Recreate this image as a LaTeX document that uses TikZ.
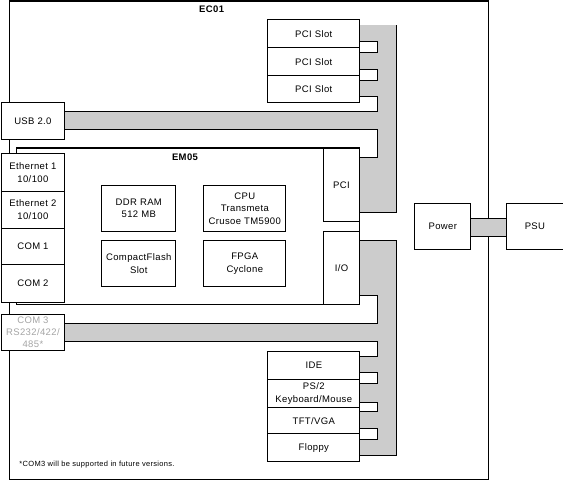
\documentclass[tikz,border=0pt]{standalone}
\usepackage{fontspec}
\setmainfont{Liberation Sans}[LetterSpace=4]
\definecolor{busgray}{RGB}{204,204,204}
\definecolor{dimtext}{RGB}{165,165,165}
\newcommand\lblfont{\fontsize{9.5}{12.5}\selectfont}
\newcommand\notefont{\fontsize{7.5}{8.5}\selectfont}
\begin{document}
\begin{tikzpicture}[x=1pt,y=-1pt,line width=1pt,
  box/.style={draw=black,fill=white,inner sep=0pt,anchor=north west,align=center,font=\lblfont},
  frame/.style={draw=black,inner sep=0pt,anchor=north west},
  title/.style={inner sep=0pt,font=\lblfont\bfseries},
  bus/.style={fill=busgray,draw=none},
  busedge/.style={draw=black,line width=1pt},
  nub/.style={draw=black,fill=white,line width=1pt}]
\useasboundingbox (0,0) rectangle (563,480);
% EC01 frame
\node[frame,minimum width=479.3pt,minimum height=478.3pt] (ec01) at (9,1) {};
\draw[line width=2pt] (ec01.north west) -- (ec01.north east);
\node[title] (ec01lbl) at (211.7,9.5) {EC01};
% upper bus
\path[bus] (359.3,25) -- (396,25) -- (396,212) -- (359.3,212) -- (359.3,157.3) -- (377.7,157.3)
  -- (377.7,129.3) -- (64.3,129.3) -- (64.3,111) -- (377.7,111) -- (377.7,96.7) -- (359.3,96.7) -- cycle;
\draw[busedge] (359.3,96.7) -- (377.7,96.7) -- (377.7,111) -- (64.3,111);
\draw[busedge] (64.3,129.3) -- (377.7,129.3) -- (377.7,157.3) -- (359.3,157.3);
\draw[busedge] (359.3,212) -- (396,212) -- (396,25);
\draw[nub] (359.3,41.3) rectangle (377.7,52.3);
\draw[nub] (359.3,69.3) rectangle (377.7,80.3);
% lower bus
\path[bus] (359.3,240) -- (396,240) -- (396,455) -- (359.3,455) -- (359.3,356) -- (377.7,356)
  -- (377.7,341.3) -- (64.3,341.3) -- (64.3,323.3) -- (377.7,323.3) -- (377.7,295) -- (359.3,295) -- cycle;
\draw[busedge] (359.3,240) -- (396,240) -- (396,455) -- (359.3,455);
\draw[busedge] (359.3,295) -- (377.7,295) -- (377.7,323.3) -- (64.3,323.3);
\draw[busedge] (64.3,341.3) -- (377.7,341.3) -- (377.7,356) -- (359.3,356);
\draw[nub] (359.3,372.3) rectangle (377.7,383);
\draw[nub] (359.3,402.7) rectangle (377.7,411);
\draw[nub] (359.3,428.3) rectangle (377.7,439);
% PCI slots
\node[box,minimum width=92pt,minimum height=28pt] (slotA) at (267.3,19.3) {PCI Slot};
\node[box,minimum width=92pt,minimum height=27.7pt] (slotB) at (267.3,47.3) {PCI Slot};
\node[box,minimum width=92pt,minimum height=27.3pt] (slotC) at (267.3,75) {PCI Slot};
% USB
\node[box,minimum width=63.8pt,minimum height=37pt] (usb) at (0.5,102.3) {USB 2.0};
% EM05
\node[box,minimum width=343.3pt,minimum height=156.3pt] (em05) at (16,147.7) {};
\draw[line width=2pt] (em05.north west) -- (em05.north east);
\node[title] (em05lbl) at (185,157.5) {EM05};
\node[box,minimum width=74pt,minimum height=46pt] (ddr) at (101.3,185) {DDR RAM\\512 MB};
\node[box,minimum width=82pt,minimum height=46pt] (cpu) at (203.3,185) {CPU\\Transmeta\\Crusoe TM5900};
\node[box,minimum width=74pt,minimum height=46pt] (cf) at (101.3,240.3) {CompactFlash\\Slot};
\node[box,minimum width=82pt,minimum height=46pt] (fpga) at (203.3,240.3) {FPGA\\Cyclone};
\node[box,minimum width=36.6pt,minimum height=73.3pt] (pcisub) at (322.7,147.7) {PCI};
\node[box,minimum width=36.6pt,minimum height=73pt] (io) at (322.7,231) {I/O};
% left column
\node[box,minimum width=63.8pt,minimum height=37.4pt] (eth1) at (0.5,153.3) {Ethernet 1\\10/100};
\node[box,minimum width=63.8pt,minimum height=37pt] (eth2) at (0.5,190.7) {Ethernet 2\\10/100};
\node[box,minimum width=63.8pt,minimum height=36.6pt] (com1) at (0.5,227.7) {COM 1};
\node[box,minimum width=63.8pt,minimum height=37.4pt] (com2) at (0.5,264.3) {COM 2};
\node[box,minimum width=63.8pt,minimum height=36.3pt,text=dimtext,font=\fontsize{9.5}{12}\selectfont] (com3) at (0.5,314) {COM 3\\RS232/422/\\485*};
% lower right devices
\node[box,minimum width=92pt,minimum height=28pt] (ide) at (267.3,350.7) {IDE};
\node[box,minimum width=92pt,minimum height=28.6pt] (ps2) at (267.3,378.7) {PS/2\\Keyboard/Mouse};
\node[box,minimum width=92pt,minimum height=26pt] (tft) at (267.3,407.3) {TFT/VGA};
\node[box,minimum width=92pt,minimum height=28pt] (floppy) at (267.3,433.3) {Floppy};
% power
\node[box,minimum width=56pt,minimum height=46.3pt] (power) at (414.3,203) {Power};
\node[box,minimum width=56.2pt,minimum height=46.3pt] (psu) at (506.3,203) {PSU};
\path[bus] (power.east |- 0,218.3) rectangle (psu.west |- 0,236.3);
\draw[busedge] (power.east |- 0,218.3) -- (psu.west |- 0,218.3);
\draw[busedge] (power.east |- 0,236.3) -- (psu.west |- 0,236.3);
% footnote
\node[inner sep=0pt,anchor=west,font=\notefont] (note) at (19,465) {*COM3 will be supported in future versions.};
\end{tikzpicture}
\end{document}
